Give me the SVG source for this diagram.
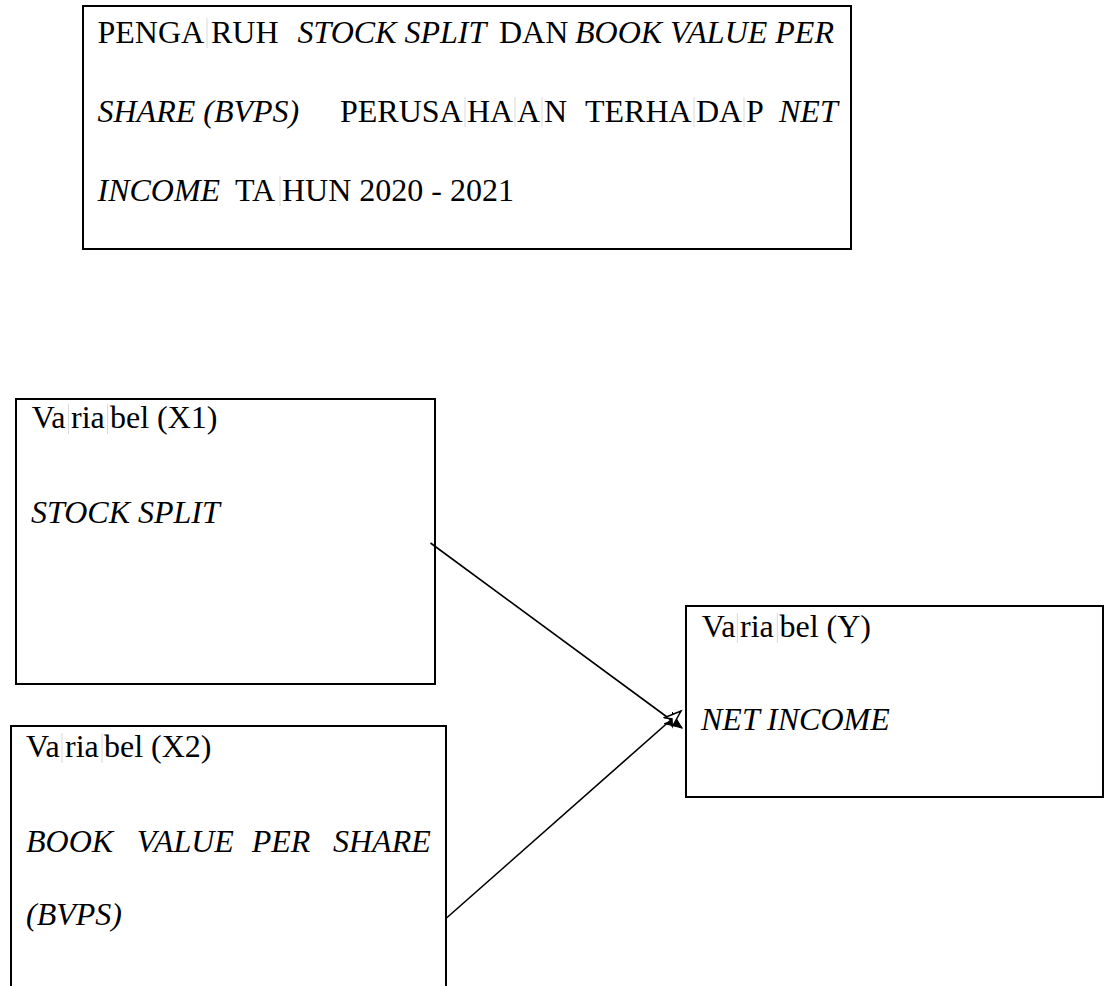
<svg xmlns="http://www.w3.org/2000/svg" width="1107" height="986" viewBox="0 0 1107 986">
  <style>
    .box { fill: #ffffff; stroke: #000000; stroke-width: 2; }
    .t { font-family: "Liberation Serif", "Times New Roman", serif; font-size: 32px; fill: #000000; }
    .i { font-style: italic; }
    .sep { stroke: #d9d9d9; stroke-width: 1; }
    .conn { stroke: #000000; stroke-width: 1.6; fill: none; }
  </style>
  <defs>
    <marker id="arrFilled" markerUnits="userSpaceOnUse" markerWidth="20" markerHeight="16" refX="17" refY="7" orient="auto">
      <path d="M0,0 L17,7 L0,14 L5,7 Z" fill="#000000" stroke="#000000" stroke-width="1"/>
    </marker>
    <marker id="arrOpen" markerUnits="userSpaceOnUse" markerWidth="22" markerHeight="16" refX="18" refY="7" orient="auto">
      <path d="M1,1 L18,7 L1,13 L6,7 Z" fill="#ffffff" stroke="#000000" stroke-width="1.5"/>
    </marker>
  </defs>
  <rect width="1107" height="986" fill="#ffffff"/>

  <g id="title">
    <rect class="box" x="83" y="6" width="768" height="243"/>
    <text class="t" y="43"><tspan x="97.5">PENGA</tspan><tspan x="211">RUH</tspan><tspan class="i" x="297.5">STOCK SPLIT</tspan><tspan x="499">DAN</tspan><tspan class="i" x="575">BOOK VALUE PER</tspan></text>
    <text class="t" y="122"><tspan class="i" x="97.5">SHARE (BVPS)</tspan><tspan x="340">PERUSA</tspan><tspan x="467">HA</tspan><tspan x="517">A</tspan><tspan x="544">N</tspan><tspan x="585">TERHA</tspan><tspan x="696">DA</tspan><tspan x="746">P</tspan><tspan class="i" x="779">NET</tspan></text>
    <text class="t" y="201"><tspan class="i" x="97.5">INCOME</tspan><tspan x="235">TA</tspan><tspan x="282">HUN 2020 - 2021</tspan></text>
    <line class="sep" x1="207" y1="18" x2="207" y2="48"/>
    <line class="sep" x1="465" y1="97" x2="465" y2="127"/>
    <line class="sep" x1="515" y1="97" x2="515" y2="127"/>
    <line class="sep" x1="542" y1="97" x2="542" y2="127"/>
    <line class="sep" x1="694" y1="97" x2="694" y2="127"/>
    <line class="sep" x1="744" y1="97" x2="744" y2="127"/>
    <line class="sep" x1="280" y1="176" x2="280" y2="206"/>
  </g>

  <g id="x1">
    <rect class="box" x="16" y="399" width="419" height="285"/>
    <text class="t" y="428"><tspan x="31.7">Va</tspan><tspan x="71">ria</tspan><tspan x="110">bel (X1)</tspan></text>
    <line class="sep" x1="68.5" y1="404" x2="68.5" y2="434"/>
    <line class="sep" x1="107.5" y1="404" x2="107.5" y2="434"/>
    <text class="t i" x="31" y="523">STOCK SPLIT</text>
  </g>

  <g id="x2">
    <rect class="box" x="11" y="726" width="435" height="270"/>
    <text class="t" y="757"><tspan x="26">Va</tspan><tspan x="65">ria</tspan><tspan x="104">bel (X2)</tspan></text>
    <line class="sep" x1="62" y1="733" x2="62" y2="763"/>
    <line class="sep" x1="102" y1="733" x2="102" y2="763"/>
    <text class="t i" y="852"><tspan x="26">BOOK</tspan><tspan x="136.7">VALUE</tspan><tspan x="251.7">PER</tspan><tspan x="333">SHARE</tspan></text>
    <text class="t i" x="26" y="925">(BVPS)</text>
  </g>

  <g id="y">
    <rect class="box" x="686" y="606" width="417" height="191"/>
    <text class="t" y="637"><tspan x="701.7">Va</tspan><tspan x="740">ria</tspan><tspan x="779.5">bel (Y)</tspan></text>
    <line class="sep" x1="737.3" y1="613" x2="737.3" y2="643"/>
    <line class="sep" x1="777.3" y1="613" x2="777.3" y2="643"/>
    <text class="t i" x="701" y="730">NET INCOME</text>
  </g>

  <g id="connectors">
    <line class="conn" x1="430.5" y1="543" x2="682" y2="728" marker-end="url(#arrFilled)"/>
    <line class="conn" x1="446.5" y1="918" x2="681" y2="711" marker-end="url(#arrOpen)"/>
  </g>
</svg>
